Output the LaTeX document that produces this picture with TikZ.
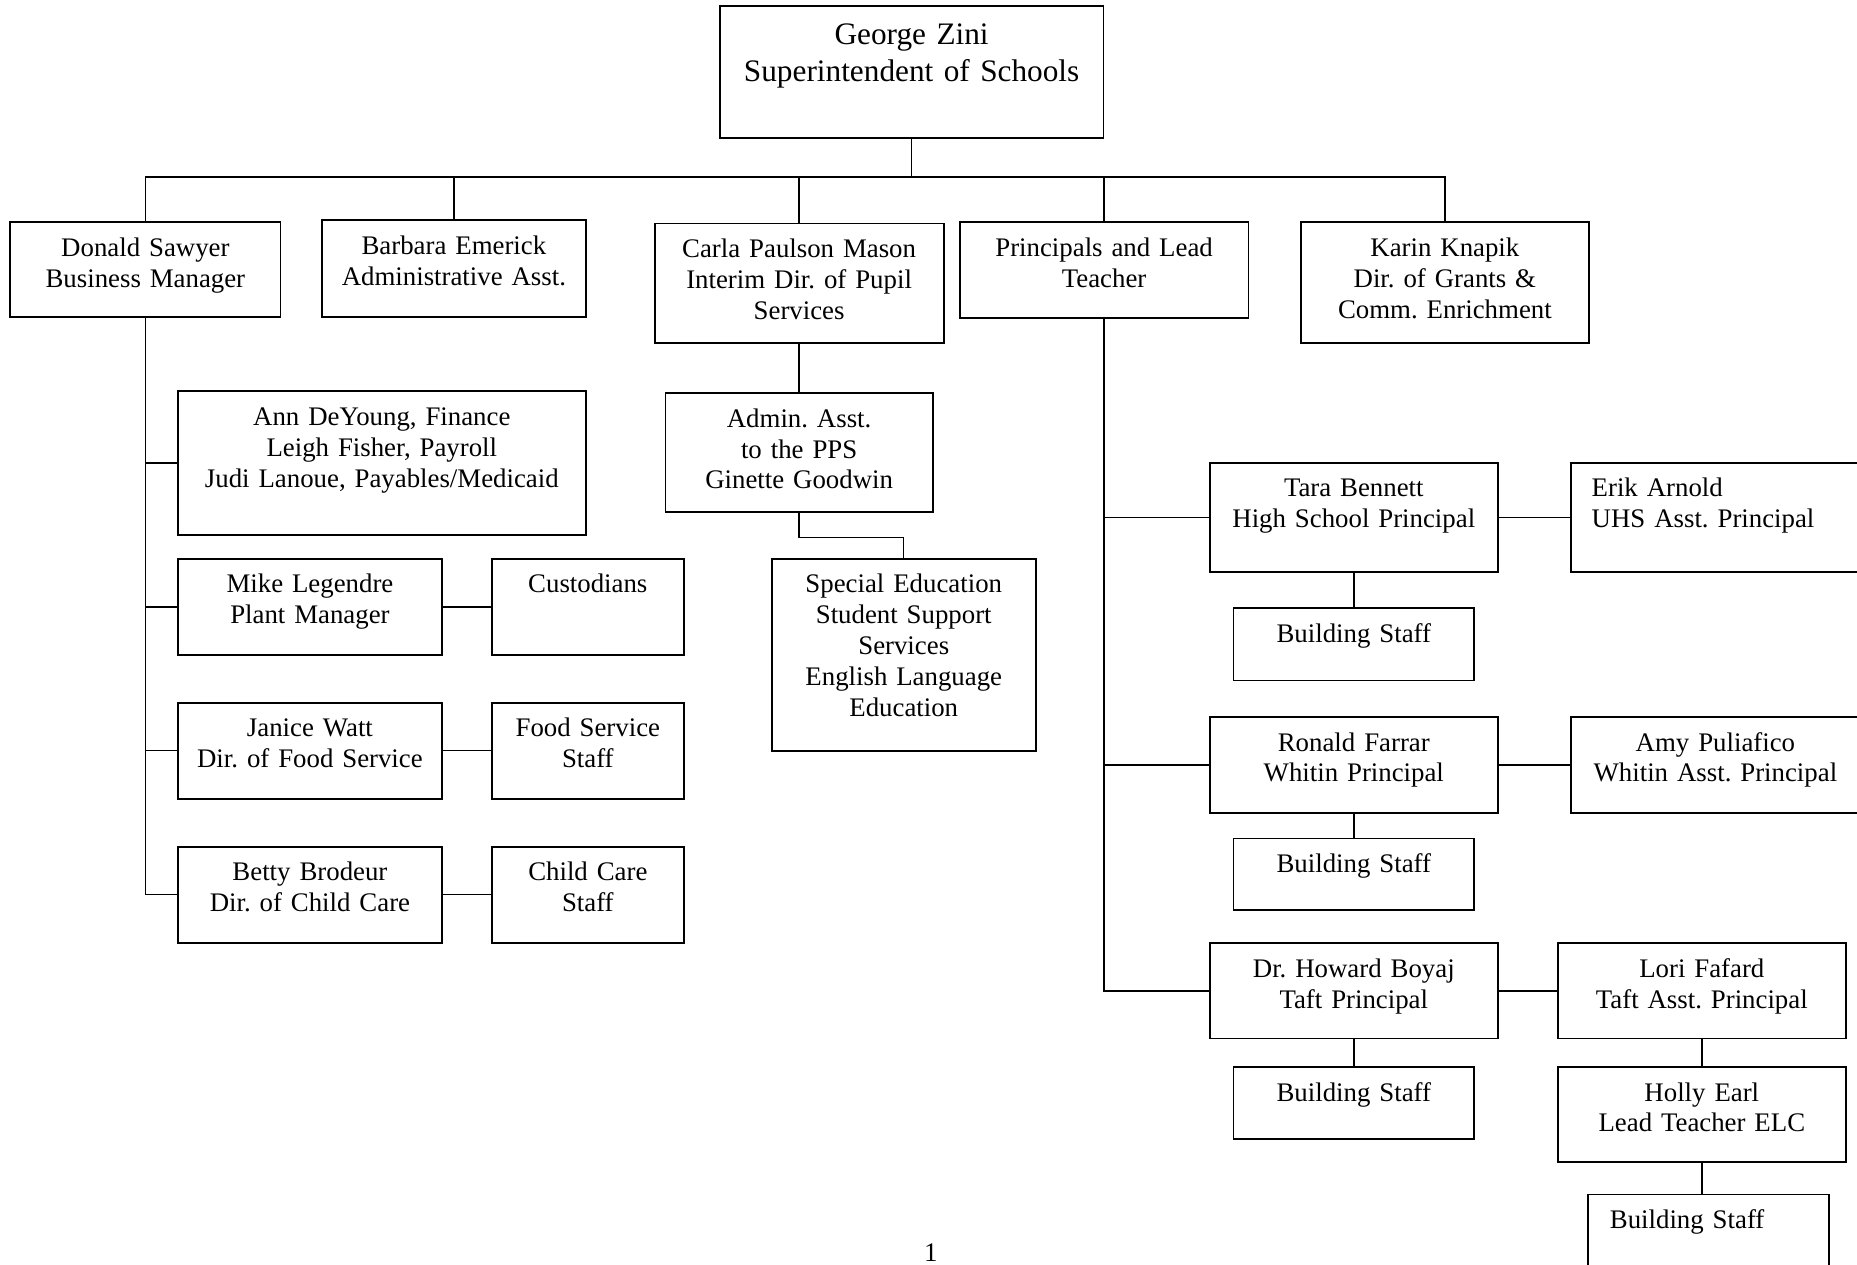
\documentclass[tikz,border=0pt]{standalone}
\usepackage{fontspec}
\setmainfont{Liberation Serif}
\usetikzlibrary{positioning}
\frenchspacing
\newcommand{\pxu}{0.53pt}
\newcommand{\boxfont}{\fontsize{12}{13.8}\selectfont}
\newcommand{\topfont}{\fontsize{14}{16.4}\selectfont}
\tikzset{
  link/.style={line width=0.65pt},
  box/.style 2 args={draw,line width=0.8pt,anchor=north west,inner sep=0pt,
    align=center,font=\boxfont,text height=15.3pt,
    text width=#1*\pxu,text depth=#2*\pxu-15.3pt},
  topbox/.style 2 args={box={#1}{#2},font=\topfont,text height=17.3pt,
    text depth=#2*\pxu-17.3pt}
}
\begin{document}
\begin{tikzpicture}[x=\pxu,y=-\pxu]
  \useasboundingbox (0,0) rectangle (1568,1068);

  \node[topbox={324}{111.5}] (sup) at (607,4.5) {George Zini\\Superintendent of Schools};

  \node[box={228}{80}] (sawyer) at (8,187) {Donald Sawyer\\Business Manager};
  \node[box={223}{82}] (emerick) at (271,185) {Barbara Emerick\\Administrative Asst.};
  \node[box={244}{101}] (mason) at (552,188) {Carla Paulson Mason\\Interim Dir. of Pupil\\Services};
  \node[box={244}{81}] (principals) at (809.5,187) {Principals and Lead\\Teacher};
  \node[box={243.5}{102}] (knapik) at (1097.5,187) {Karin Knapik\\Dir. of Grants \&\\Comm. Enrichment};
  \foreach \n in {sawyer,emerick,mason,principals,knapik}
    \draw[link] (sup.south) -- ++(0,32) -| (\n.north);

  \node[box={344.7}{121.4}] (finance) at (149.3,329.6) {Ann DeYoung, Finance\\Leigh Fisher, Payroll\\Judi Lanoue, Payables/Medicaid};
  \node[box={223.3}{81.2}] (legendre) at (149.3,471) {Mike Legendre\\Plant Manager};
  \node[box={162.2}{81.2},right=21.4pt of legendre] (custodians) {Custodians};
  \node[box={223.3}{81.1}] (watt) at (149.3,592.6) {Janice Watt\\Dir. of Food Service};
  \node[box={162.2}{81.1},right=21.4pt of watt] (foodstaff) {Food Service\\Staff};
  \node[box={223.3}{81.1}] (brodeur) at (149.3,714.1) {Betty Brodeur\\Dir. of Child Care};
  \node[box={162.2}{81.1},right=21.4pt of brodeur] (childstaff) {Child Care\\Staff};
  \foreach \n in {finance,legendre,watt,brodeur}
    \draw[link] (sawyer.south) |- (\n.west);
  \draw[link] (legendre) -- (custodians);
  \draw[link] (watt) -- (foodstaff);
  \draw[link] (brodeur) -- (childstaff);

  \node[box={225.7}{100.8},below=21.5pt of mason] (ppsasst) {Admin. Asst.\\to the PPS\\Ginette Goodwin};
  \node[box={222.7}{162.3}] (sped) at (651,471) {Special Education\\Student Support\\Services\\English Language\\Education};
  \draw[link] (mason.south) -- (ppsasst.north);
  \draw[link] (ppsasst.south) -- ++(0,20.6) -| (sped.north);

  \node[box={242.9}{92.2}] (bennett) at (1020.9,390) {Tara Bennett\\High School Principal};
  \node[box={209}{92.2},align=left,inner xsep=9.3pt,right=32pt of bennett] (arnold) {Erik Arnold\\UHS Asst. Principal};
  \node[box={203}{60.8},below=15.5pt of bennett] (bsuhs) {Building Staff};
  \node[box={242.9}{81}] (farrar) at (1020.9,604.5) {Ronald Farrar\\Whitin Principal};
  \node[box={244}{81},right=32pt of farrar] (puliafico) {Amy Puliafico\\Whitin Asst. Principal};
  \node[box={203}{60.7},below=10.7pt of farrar] (bswhitin) {Building Staff};
  \node[box={242.9}{80.5}] (boyaj) at (1020.9,795.6) {Dr. Howard Boyaj\\Taft Principal};
  \node[box={243.3}{80.5},right=26.1pt of boyaj] (fafard) {Lori Fafard\\Taft Asst. Principal};
  \node[box={203}{60.6},below=11.9pt of boyaj] (bstaft) {Building Staff};
  \node[box={243.5}{80.4},below=11.9pt of fafard] (earl) {Holly Earl\\Lead Teacher ELC};
  \node[box={166.8}{61},align=left,inner xsep=9.7pt] (bself) at (1340.3,1007.9) {Building Staff};
  \foreach \n in {bennett,farrar,boyaj}
    \draw[link] (principals.south) |- (\n.west);
  \draw[link] (bennett) -- (arnold);
  \draw[link] (bennett) -- (bsuhs);
  \draw[link] (farrar) -- (puliafico);
  \draw[link] (farrar) -- (bswhitin);
  \draw[link] (boyaj) -- (fafard);
  \draw[link] (boyaj) -- (bstaft);
  \draw[link] (fafard) -- (earl);
  \draw[link] (earl.south) -- (earl.south |- bself.north);

  \node[font=\boxfont] (pagenum) at (786,1058) {1};
\end{tikzpicture}
\end{document}
